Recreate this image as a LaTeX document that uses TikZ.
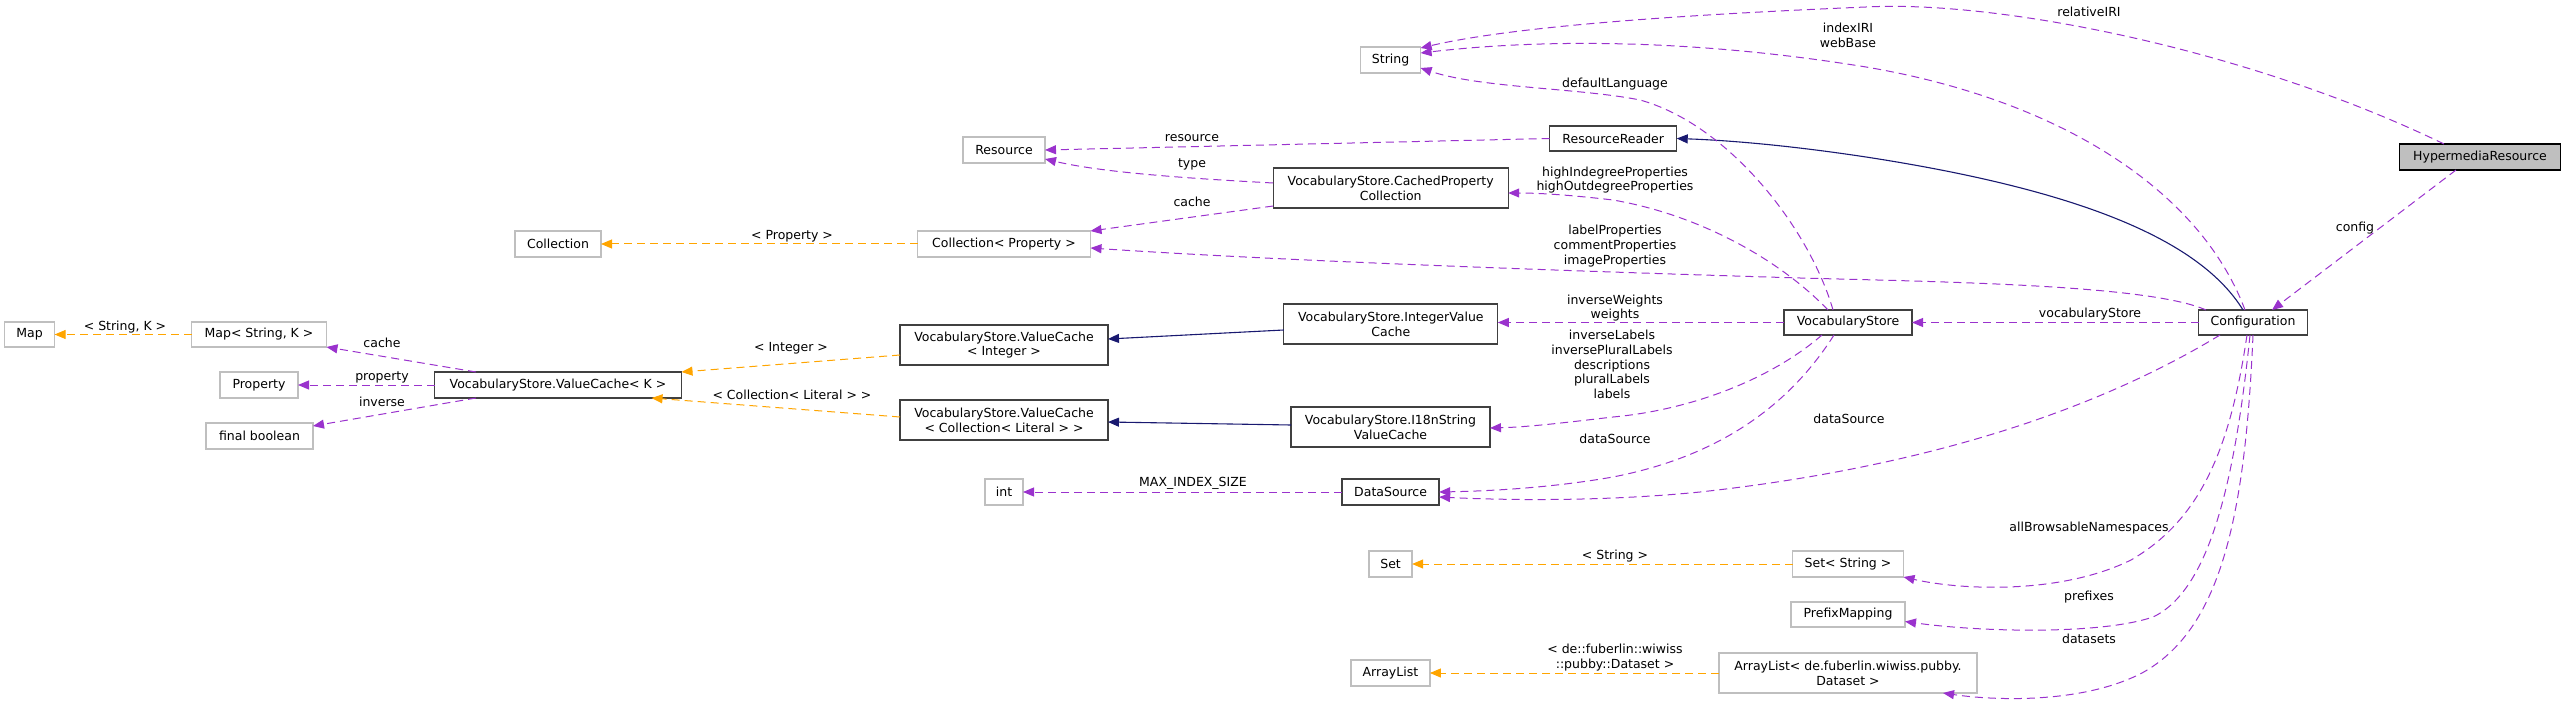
\documentclass[tikz,border=0pt]{standalone}
\usepackage{fontspec}
\setmainfont{DejaVu Sans}
\usepackage{tikz}
\usetikzlibrary{arrows.meta}
\definecolor{dgUse}{HTML}{9A32CD}
\definecolor{dgTmpl}{HTML}{FFA500}
\definecolor{dgInh}{HTML}{191970}
\definecolor{dgEdge}{HTML}{404040}
\definecolor{dgExt}{HTML}{BFBFBF}
\definecolor{dgMain}{HTML}{BFBFBF}

\begin{document}
\begin{tikzpicture}[
  x=1pt,y=-1pt,
  font=\fontsize{12.5}{14.8}\selectfont,
  cls/.style={draw=dgEdge,line width=1.3pt,fill=white,inner sep=2pt,outer sep=0pt,align=center,minimum height=25pt},
  ext/.style={cls,draw=dgExt},
  main/.style={cls,draw=black,fill=dgMain},
  lbl/.style={inner sep=0pt,align=center},
  member/.style={-{Triangle[length=11pt,width=9pt]},dgUse,line width=1pt,dash pattern=on 8pt off 5pt},
  tmpl/.style={member,dgTmpl},
  inh/.style={-{Triangle[length=11pt,width=9pt]},dgInh,line width=1.1pt}
]
\useasboundingbox (0,0) rectangle (2567,703);
\node[ext,minimum width=50pt] (map) at (29.6,334.5) {Map};
\node[ext,minimum width=135pt] (mapsk) at (259,334.5) {Map< String, K >};
\node[ext,minimum width=86pt,minimum height=26pt] (coll) at (558,244) {Collection};
\node[ext,minimum width=78pt,minimum height=26pt] (prop) at (259,385) {Property};
\node[cls,minimum width=247pt,minimum height=26pt] (vck) at (558,385) {VocabularyStore.ValueCache< K >};
\node[ext,minimum width=107pt,minimum height=26pt] (fbool) at (259.5,436) {final boolean};
\node[ext,minimum width=60pt,minimum height=26pt] (string) at (1390.6,60) {String};
\node[ext,minimum width=82pt,minimum height=26pt] (resource) at (1004,150) {Resource};
\node[cls,minimum width=127pt] (rreader) at (1613.2,138.5) {ResourceReader};
\node[cls,minimum width=235pt,minimum height=40pt] (cpc) at (1390.7,188) {VocabularyStore.CachedProperty\\Collection};
\node[ext,minimum width=173pt,minimum height=26pt] (collprop) at (1004,244) {Collection< Property >};
\node[cls,minimum width=214pt,minimum height=40pt] (ivc) at (1390.8,324) {VocabularyStore.IntegerValue\\Cache};
\node[cls,minimum width=208pt,minimum height=40pt] (vcint) at (1004,345) {VocabularyStore.ValueCache\\< Integer >};
\node[cls,minimum width=208pt,minimum height=40pt] (vccl) at (1004,420) {VocabularyStore.ValueCache\\< Collection< Literal > >};
\node[cls,minimum width=199pt,minimum height=40pt] (i18n) at (1390.5,427) {VocabularyStore.I18nString\\ValueCache};
\node[cls,minimum width=97pt,minimum height=26pt] (dsrc) at (1390.6,492) {DataSource};
\node[ext,minimum width=38pt,minimum height=26pt] (int) at (1004,492) {int};
\node[ext,minimum width=43pt,minimum height=26pt] (set) at (1390.6,564) {Set};
\node[ext,minimum width=79pt,minimum height=26pt] (alist) at (1390.4,673) {ArrayList};
\node[main,minimum width=161pt,minimum height=26pt] (hyper) at (2480,157) {HypermediaResource};
\node[cls,minimum width=109pt] (config) at (2253,322.5) {Configuration};
\node[cls,minimum width=128pt] (vstore) at (1848,322.5) {VocabularyStore};
\node[ext,minimum width=111pt,minimum height=26pt] (setstr) at (1848,564) {Set< String >};
\node[ext,minimum width=114pt] (pmap) at (1848,614.5) {PrefixMapping};
\node[ext,minimum width=258pt,minimum height=40pt] (alistds) at (1848,673) {ArrayList< de.fuberlin.wiwiss.pubby.\\Dataset >};

\draw[member] ([xshift=-36pt]hyper.north) .. controls (2250,50) and (2000,0) .. (1866,7) .. controls (1700,14) and (1520,25) .. ([yshift=12pt]string.east);
\draw[member] ([xshift=-24pt]hyper.south) -- ([xshift=19pt]config.north);
\draw[member] ([xshift=-8pt]config.north) .. controls (2200,190) and (2060,100) .. (1866,67) .. controls (1700,40) and (1550,38) .. ([yshift=7pt]string.east);
\draw[inh] ([xshift=-10pt]config.north) .. controls (2200,240) and (2080,190) .. (1866,157) .. controls (1780,144) and (1720,140) .. (rreader.east);
\draw[member] (config.west) -- (vstore.east);
\draw[member] ([xshift=-47pt]config.north) .. controls (2150,285) and (1950,282) .. (1800,278) .. controls (1600,272) and (1300,262) .. ([yshift=-4pt]collprop.east);
\draw[member] ([xshift=-33pt]config.south) .. controls (2080,420) and (1900,470) .. (1700,492) .. controls (1600,502) and (1500,500) .. ([yshift=-5pt]dsrc.east);
\draw[member] ([xshift=-6pt]config.south) .. controls (2230,450) and (2200,520) .. (2131,560) .. controls (2060,595) and (1960,590) .. (setstr.south east);
\draw[member] ([xshift=-3pt]config.south) .. controls (2235,480) and (2210,590) .. (2153,617) .. controls (2100,635) and (1980,632) .. ([yshift=-7pt]pmap.east);
\draw[member] (config.south) .. controls (2245,520) and (2220,630) .. (2142,673) .. controls (2080,705) and (1990,700) .. ([xshift=95pt]alistds.south);
\draw[member] ([xshift=-15pt]vstore.north) .. controls (1810,230) and (1730,125) .. (1640,100) .. controls (1580,88) and (1480,88) .. ([yshift=-8pt]string.east);
\draw[member] ([xshift=-20pt]vstore.north) .. controls (1780,260) and (1700,215) .. (1613,200) .. controls (1570,195) and (1540,193) .. ([yshift=-5pt]cpc.east);
\draw[member] (vstore.west) -- ([yshift=1.5pt]ivc.east);
\draw[member] ([xshift=-26pt]vstore.south) .. controls (1770,380) and (1690,410) .. (1613,417) .. controls (1570,422) and (1530,427) .. ([yshift=-1pt]i18n.east);
\draw[member] ([xshift=-14pt]vstore.south) .. controls (1780,420) and (1700,460) .. (1613,477) .. controls (1550,488) and (1490,491) .. (dsrc.east);
\draw[member] (rreader.west) -- (resource.east);
\draw[member] ([yshift=5pt]cpc.west) .. controls (1180,178) and (1100,172) .. ([yshift=-9pt]resource.east);
\draw[member] ([yshift=-18pt]cpc.west) -- (collprop.north east);
\draw[inh] ([yshift=-6pt]ivc.west) -- ([yshift=6pt]vcint.east);
\draw[inh] ([yshift=2pt]i18n.west) -- ([yshift=-2pt]vccl.east);
\draw[tmpl] ([yshift=-10pt]vcint.west) -- (vck.north east);
\draw[tmpl] ([yshift=3pt]vccl.west) -- ([xshift=-30pt]vck.south east);
\draw[member] ([xshift=-82pt]vck.north) -- (mapsk.south east);
\draw[member] (vck.west) -- (prop.east);
\draw[member] ([xshift=-82pt]vck.south) -- ([yshift=-3pt]fbool.north east);
\draw[tmpl] (mapsk.west) -- (map.east);
\draw[tmpl] (collprop.west) -- (coll.east);
\draw[member] (dsrc.west) -- (int.east);
\draw[tmpl] (setstr.west) -- (set.east);
\draw[tmpl] (alistds.west) -- (alist.east);

\node[lbl] (lrel) at (2089,12) {relativeIRI};
\node[lbl] (lcfg) at (2355,228) {config};
\node[lbl] (lidx) at (1848,35) {indexIRI\\webBase};
\node[lbl] (lvoc) at (2090,314) {vocabularyStore};
\node[lbl] (llbl) at (1615,246) {labelProperties\\commentProperties\\imageProperties};
\node[lbl] (lcds) at (1849,419) {dataSource};
\node[lbl] (labn) at (2089,528) {allBrowsableNamespaces};
\node[lbl] (lpfx) at (2089,597) {prefixes};
\node[lbl] (ldst) at (2089,639) {datasets};
\node[lbl] (ldl) at (1615,84) {defaultLanguage};
\node[lbl] (lhip) at (1615,180) {highIndegreeProperties\\highOutdegreeProperties};
\node[lbl] (lwts) at (1615,308) {inverseWeights\\weights};
\node[lbl] (llab) at (1612,364.5) {inverseLabels\\inversePluralLabels\\descriptions\\pluralLabels\\labels};
\node[lbl] (lvds) at (1615,439) {dataSource};
\node[lbl] (lres) at (1192,138) {resource};
\node[lbl] (ltyp) at (1192,164) {type};
\node[lbl] (lcch) at (1192,202) {cache};
\node[lbl] (lmax) at (1193,483) {MAX\_INDEX\_SIZE};
\node[lbl] (lstr) at (1615,556) {< String >};
\node[lbl] (ldsd) at (1615,657.5) {< de::fuberlin::wiwiss\\::pubby::Dataset >};
\node[lbl] (lprp) at (792,236) {< Property >};
\node[lbl] (lint) at (791,348) {< Integer >};
\node[lbl] (lccl) at (792,395) {< Collection< Literal > >};
\node[lbl] (lvcc) at (382,343) {cache};
\node[lbl] (lppt) at (382,377) {property};
\node[lbl] (linv) at (382,402) {inverse};
\node[lbl] (lsk) at (125,327) {< String, K >};
\end{tikzpicture}
\end{document}
